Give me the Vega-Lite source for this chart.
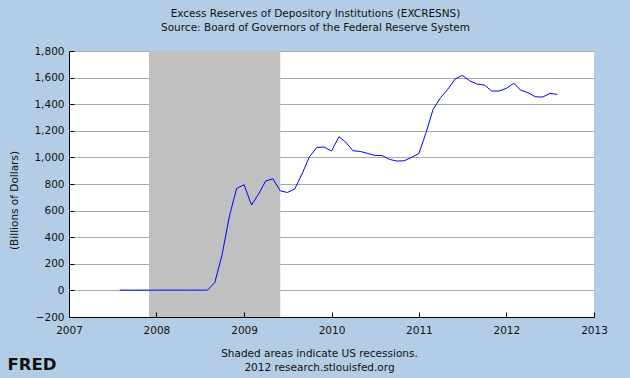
{
  "$schema": "https://vega.github.io/schema/vega-lite/v6.json",
  "autosize": {"type": "none"},
  "padding": {"left": 69, "top": 51, "right": 36, "bottom": 61},
  "width": 525,
  "height": 266,
  "background": "#b4cde6",
  "config": {
    "font": "DejaVu Sans",
    "view": {"stroke": null, "fill": "#ffffff"},
    "axis": {"labelFont": "DejaVu Sans", "titleFont": "DejaVu Sans", "labelFontSize": 10.5, "titleFontSize": 10.5, "labelColor": "#111111", "titleColor": "#111111", "titleFontWeight": "normal"}
  },
  "title": {
    "text": "Excess Reserves of Depository Institutions (EXCRESNS)",
    "subtitle": "Source: Board of Governors of the Federal Reserve System",
    "font": "DejaVu Sans",
    "subtitleFont": "DejaVu Sans",
    "fontSize": 10.5,
    "subtitleFontSize": 10.5,
    "fontWeight": "normal",
    "color": "#111111",
    "subtitleColor": "#111111",
    "subtitlePadding": 3,
    "anchor": "middle",
    "frame": "group",
    "dx": -16,
    "offset": 13
  },
  "datasets": {
    "recessions": [{"start": "2007-12-01", "end": "2009-06-01"}],
    "series": [
      {"date": "2007-08-01", "value": 2},
      {"date": "2007-09-01", "value": 2},
      {"date": "2007-10-01", "value": 2},
      {"date": "2007-11-01", "value": 2},
      {"date": "2007-12-01", "value": 2},
      {"date": "2008-01-01", "value": 2},
      {"date": "2008-02-01", "value": 2},
      {"date": "2008-03-01", "value": 2},
      {"date": "2008-04-01", "value": 2},
      {"date": "2008-05-01", "value": 2},
      {"date": "2008-06-01", "value": 2},
      {"date": "2008-07-01", "value": 2},
      {"date": "2008-08-01", "value": 2},
      {"date": "2008-09-01", "value": 60},
      {"date": "2008-10-01", "value": 267},
      {"date": "2008-11-01", "value": 560},
      {"date": "2008-12-01", "value": 767},
      {"date": "2009-01-01", "value": 795},
      {"date": "2009-02-01", "value": 642},
      {"date": "2009-03-01", "value": 720},
      {"date": "2009-04-01", "value": 822},
      {"date": "2009-05-01", "value": 840},
      {"date": "2009-06-01", "value": 749},
      {"date": "2009-07-01", "value": 736},
      {"date": "2009-08-01", "value": 764},
      {"date": "2009-09-01", "value": 880},
      {"date": "2009-10-01", "value": 1005},
      {"date": "2009-11-01", "value": 1075},
      {"date": "2009-12-01", "value": 1078},
      {"date": "2010-01-01", "value": 1048},
      {"date": "2010-02-01", "value": 1155},
      {"date": "2010-03-01", "value": 1115},
      {"date": "2010-04-01", "value": 1050},
      {"date": "2010-05-01", "value": 1045},
      {"date": "2010-06-01", "value": 1030},
      {"date": "2010-07-01", "value": 1015},
      {"date": "2010-08-01", "value": 1013},
      {"date": "2010-09-01", "value": 985},
      {"date": "2010-10-01", "value": 972},
      {"date": "2010-11-01", "value": 975},
      {"date": "2010-12-01", "value": 1000},
      {"date": "2011-01-01", "value": 1030},
      {"date": "2011-02-01", "value": 1193},
      {"date": "2011-03-01", "value": 1361},
      {"date": "2011-04-01", "value": 1448},
      {"date": "2011-05-01", "value": 1511},
      {"date": "2011-06-01", "value": 1589},
      {"date": "2011-07-01", "value": 1617},
      {"date": "2011-08-01", "value": 1576},
      {"date": "2011-09-01", "value": 1551},
      {"date": "2011-10-01", "value": 1544},
      {"date": "2011-11-01", "value": 1499},
      {"date": "2011-12-01", "value": 1499},
      {"date": "2012-01-01", "value": 1519},
      {"date": "2012-02-01", "value": 1557},
      {"date": "2012-03-01", "value": 1506},
      {"date": "2012-04-01", "value": 1486},
      {"date": "2012-05-01", "value": 1456},
      {"date": "2012-06-01", "value": 1454},
      {"date": "2012-07-01", "value": 1481},
      {"date": "2012-08-01", "value": 1474}
    ]
  },
  "layer": [
    {
      "data": {"name": "recessions"},
      "mark": {"type": "rect", "color": "#c0c0c0", "opacity": 1},
      "encoding": {
        "x": {"field": "start", "type": "temporal"},
        "x2": {"field": "end"},
        "y": {
          "datum": -200,
          "type": "quantitative",
          "scale": {"domain": [-200, 1800], "nice": false, "zero": false},
          "axis": {
            "orient": "right",
            "labels": false,
            "ticks": false,
            "domain": false,
            "grid": false,
            "title": "FRED",
            "titleFont": "DejaVu Sans",
            "titleFontSize": 16.5,
            "titleFontWeight": "bold",
            "titleColor": "#111111",
            "titleAngle": 0,
            "titleAlign": "left",
            "titleBaseline": "alphabetic",
            "titleX": -587,
            "titleY": 318
          }
        },
        "y2": {"datum": 1800}
      }
    },
    {
      "data": {"name": "series"},
      "mark": {"type": "line", "color": "#0000ff", "strokeWidth": 1},
      "encoding": {
        "x": {
          "field": "date",
          "type": "temporal",
          "scale": {"domain": ["2007-01-01", "2013-01-01"], "nice": false},
          "axis": {
            "format": "%Y",
            "tickCount": {"interval": "year", "step": 1},
            "grid": false,
            "domainColor": "#000000",
            "tickColor": "#000000",
            "tickSize": -5,
            "labelPadding": 13,
            "labelFlush": false,
            "labelOverlap": false,
            "zindex": 1,
            "title": ["Shaded areas indicate US recessions.", "2012 research.stlouisfed.org"],
            "titleAnchor": null,
            "titleAlign": "center",
            "titleBaseline": "alphabetic",
            "titleX": 250,
            "titleY": 39,
            "titleLineHeight": 14
          }
        },
        "y": {
          "field": "value",
          "type": "quantitative",
          "scale": {"domain": [-200, 1800], "nice": false, "zero": false},
          "axis": {
            "values": [-200, 0, 200, 400, 600, 800, 1000, 1200, 1400, 1600, 1800],
            "format": ",d",
            "grid": true,
            "gridColor": "#a8a8a8",
            "gridOpacity": 1,
            "domainColor": "#000000",
            "tickColor": "#000000",
            "tickSize": -5,
            "labelPadding": 10,
            "title": "(Billions of Dollars)",
            "titleAngle": -90,
            "titleAlign": "center",
            "titleBaseline": "middle",
            "titleX": -55,
            "titleY": 149
          }
        }
      }
    }
  ],
  "resolve": {"scale": {"y": "independent"}, "axis": {"y": "independent"}}
}
